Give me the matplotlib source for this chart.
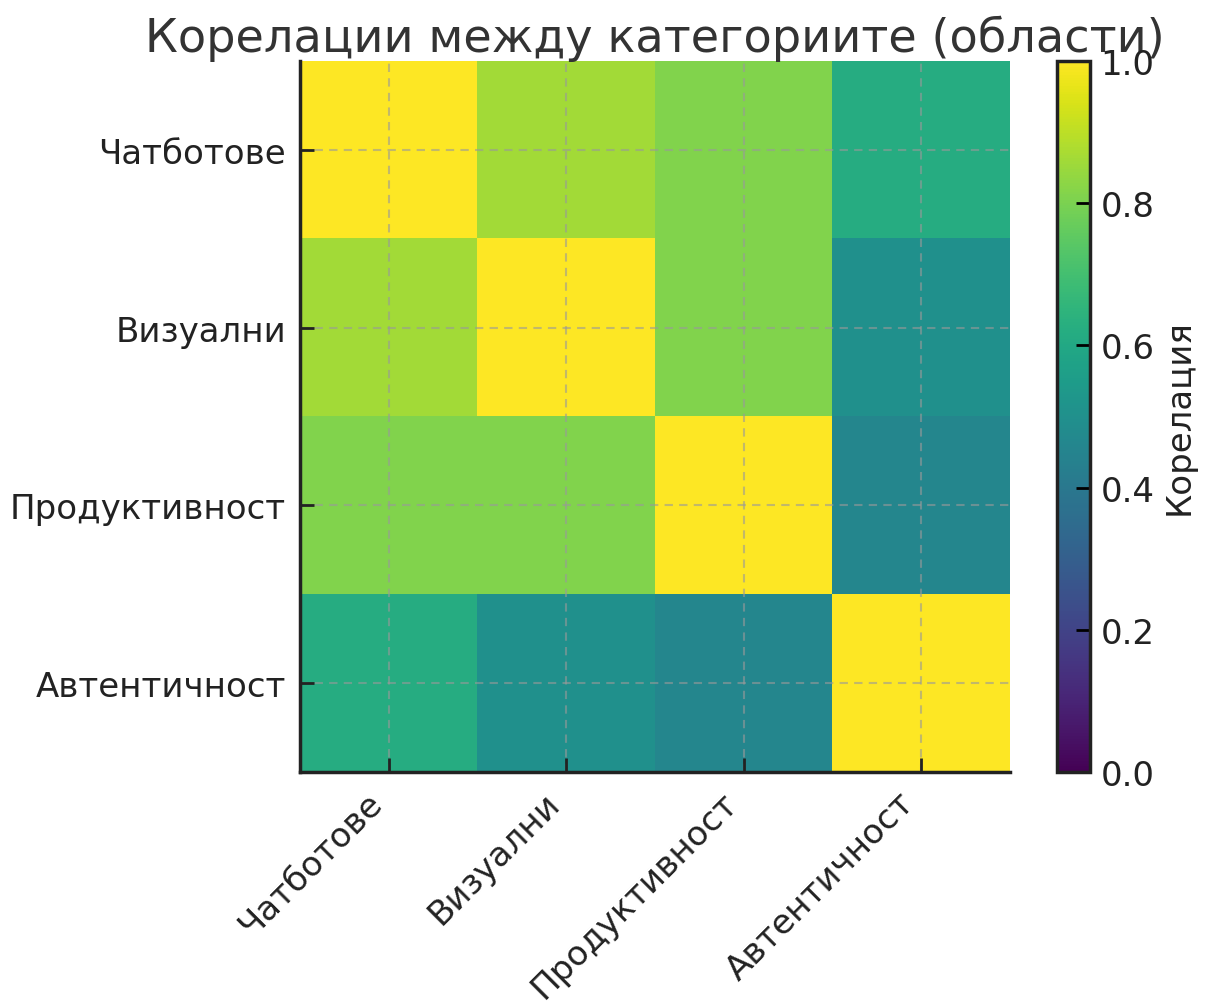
import numpy as np
import matplotlib
matplotlib.use("Agg")
import matplotlib.pyplot as plt

categories = ["Чатботове", "Визуални", "Продуктивност", "Автентичност"]
corr_values = [
    [1.00, 0.86, 0.81, 0.62],
    [0.86, 1.00, 0.81, 0.50],
    [0.81, 0.81, 1.00, 0.46],
    [0.62, 0.50, 0.46, 1.00],
]

fig = plt.figure(figsize=(12.12, 10.03), dpi=100)
ax = fig.add_axes([0.2475, 0.2293, 0.5858, 0.7089])
cax = fig.add_axes([0.872, 0.2293, 0.027, 0.7089])

im = ax.imshow(np.array(corr_values), cmap="viridis", vmin=0, vmax=1, aspect="auto")

ax.set_xticks(range(len(categories)))
ax.set_yticks(range(len(categories)))
ax.set_xticklabels(categories, rotation=45, ha="right")
ax.set_yticklabels(categories)
ax.tick_params(direction="in", length=10, width=2, labelsize=24.5, color="#222222",
               labelcolor="#222222", pad=10)
ax.grid(True, linestyle=(0, (4, 3)), color="#999999", linewidth=1.5, alpha=0.6)
for side in ("top", "right"):
    ax.spines[side].set_visible(False)
for side in ("left", "bottom"):
    ax.spines[side].set_linewidth(2.5)
    ax.spines[side].set_color("#222222")

ax.set_title("Корелации между категориите (области)", fontsize=33.3, color="#333333", pad=6)

cbar = fig.colorbar(im, cax=cax)
cbar.set_label("Корелация", fontsize=24.5, color="#222222", labelpad=6)
cbar.ax.tick_params(direction="in", length=10, width=2, labelsize=24.5,
                    labelcolor="#222222", pad=8)
cbar.outline.set_linewidth(2.5)
cbar.outline.set_edgecolor("#222222")

fig.savefig("out.png", dpi=100)
